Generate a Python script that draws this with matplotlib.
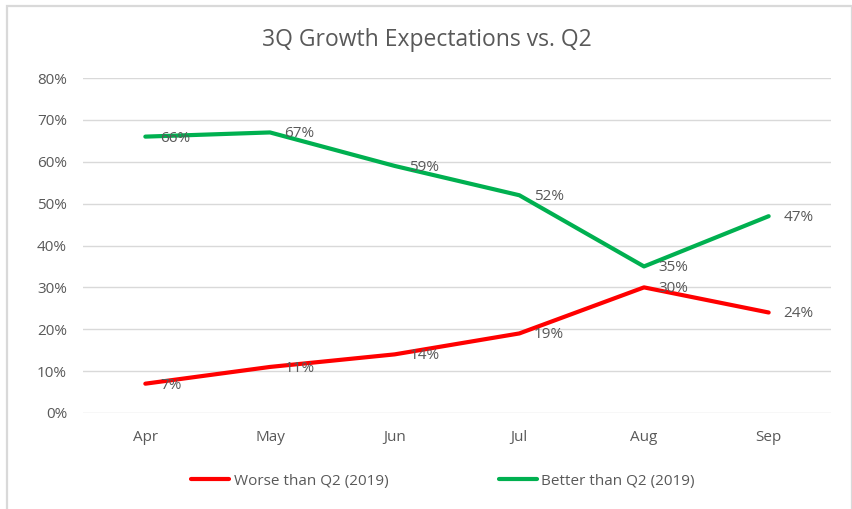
import matplotlib
matplotlib.use("Agg")
import matplotlib.pyplot as plt
from matplotlib.patches import Rectangle
from matplotlib.ticker import FuncFormatter, MultipleLocator

months = ["Apr", "May", "Jun", "Jul", "Aug", "Sep"]
worse = [7, 11, 14, 19, 30, 24]
better = [66, 67, 59, 52, 35, 47]
series_names = ["Worse than Q2 (2019)", "Better than Q2 (2019)"]
title = "3Q Growth Expectations vs. Q2"

TXT = "#595959"
GRID = "#d9d9d9"
RED = "#ff0000"
GREEN = "#00b050"
FONT = ["Open Sans", "DejaVu Sans"]
plt.rcParams["font.family"] = FONT
FS = 11

W, H = 853, 509
fig = plt.figure(figsize=(W / 100, H / 100), dpi=100)
fig.patch.set_facecolor("white")

# outer frame
fig.add_artist(Rectangle((7 / W, -0.05), (852 - 7) / W, 1.05 - 6 / H,
                         transform=fig.transFigure, fill=False,
                         edgecolor=GRID, linewidth=1.6))

ax = fig.add_axes([83 / W, 1 - 413 / H, (831 - 83) / W, (413 - 78) / H])
x = list(range(len(months)))
ax.plot(x, [v / 100 for v in worse], color=RED, linewidth=3.0,
        solid_capstyle="round", label=series_names[0], zorder=3)
ax.plot(x, [v / 100 for v in better], color=GREEN, linewidth=3.0,
        solid_capstyle="round", label=series_names[1], zorder=3)

for vals in (worse, better):
    for xi, v in zip(x, vals):
        ax.annotate(f"{v}%", (xi, v / 100), xytext=(10.5, -1),
                    textcoords="offset points", ha="left", va="center",
                    color=TXT, fontsize=FS, zorder=4)

ax.set_xlim(-0.5, len(months) - 0.5)
ax.set_ylim(0, 0.8)
ax.yaxis.set_major_locator(MultipleLocator(0.1))
ax.yaxis.set_major_formatter(FuncFormatter(lambda v, p: f"{v * 100:.0f}%"))
ax.set_xticks(x)
ax.set_xticklabels(months)
ax.grid(axis="y", color=GRID, linewidth=1.0, zorder=0)
ax.set_axisbelow(True)
for s in ax.spines.values():
    s.set_visible(False)
ax.tick_params(axis="both", length=0, colors=TXT, labelsize=FS)
ax.tick_params(axis="y", pad=11.5)
ax.tick_params(axis="x", pad=12)

fig.text(427 / W, 1 - 40 / H, title, ha="center", va="center",
         fontsize=16.5, color=TXT)

leg = fig.legend(loc="center", bbox_to_anchor=(443 / W, 1 - 481 / H),
                 ncol=2, frameon=False, fontsize=FS, handlelength=2.5,
                 handletextpad=0.3, columnspacing=7.2, labelcolor=TXT)

fig.savefig("out.png", dpi=100, facecolor="white")
